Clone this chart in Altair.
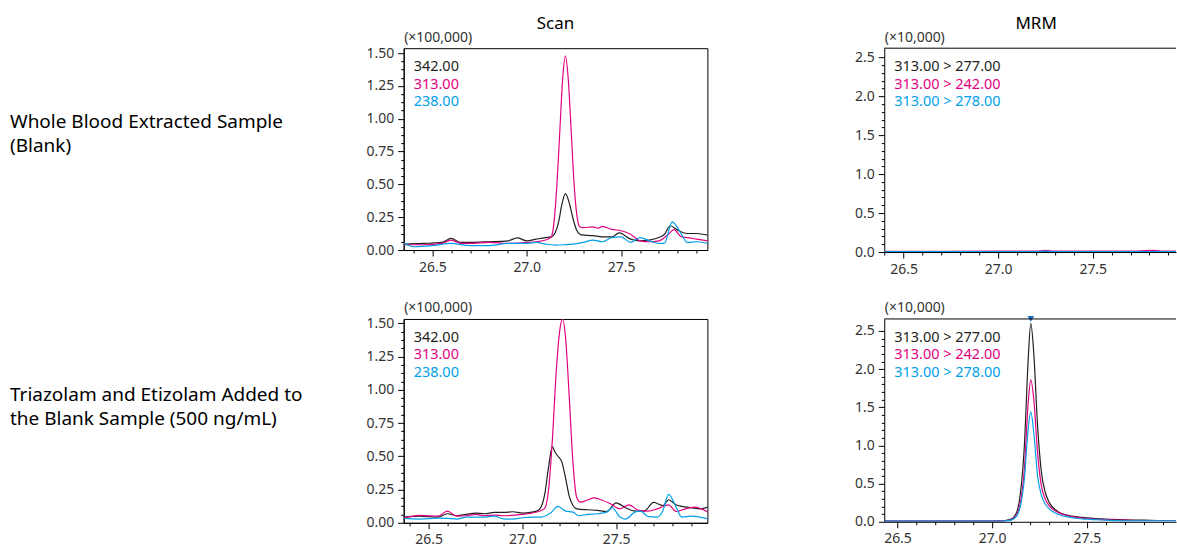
import altair as alt
import pandas as pd

FONT = "Noto Sans"
BLACK = "#231f20"
MAGENTA = "#e4007f"
CYAN = "#00a0e9"
MARK_BLUE = "#1f6fc0"

row_labels = ["Whole Blood Extracted Sample\n(Blank)",
              "Triazolam and Etizolam Added to\nthe Blank Sample (500 ng/mL)"]
panel_titles = ["Scan", "MRM"]
scan_names = ["342.00", "313.00", "238.00"]
mrm_names = ["313.00 > 277.00", "313.00 > 242.00", "313.00 > 278.00"]
scan_unit = "(×100,000)"
mrm_unit = "(×10,000)"

x_ticks = [26.4, 26.5, 26.6, 26.7, 26.8, 26.9, 27.0, 27.1, 27.2, 27.3, 27.4, 27.5, 27.6, 27.7, 27.8, 27.9]
scan_y_ticks = [0.0, 0.0625, 0.125, 0.1875, 0.25, 0.3125, 0.375, 0.4375, 0.5, 0.5625, 0.625, 0.6875,
                0.75, 0.8125, 0.875, 0.9375, 1.0, 1.0625, 1.125, 1.1875, 1.25, 1.3125, 1.375, 1.4375, 1.5]
mrm_y_ticks = [0.0, 0.1, 0.2, 0.3, 0.4, 0.5, 0.6, 0.7, 0.8, 0.9, 1.0, 1.1, 1.2, 1.3, 1.4, 1.5,
               1.6, 1.7, 1.8, 1.9, 2.0, 2.1, 2.2, 2.3, 2.4, 2.5]

# ---------- Scan, blank sample ----------
sb_342_t = [26.35, 26.45, 26.55, 26.6, 26.65, 26.7, 26.8, 26.9, 26.95, 27.0, 27.05, 27.1, 27.13, 27.15,
            27.17, 27.185, 27.205, 27.225, 27.245, 27.265, 27.29, 27.35, 27.4, 27.45, 27.49, 27.55,
            27.6, 27.65, 27.7, 27.73, 27.76, 27.8, 27.85, 27.9, 27.96]
sb_342_v = [0.045, 0.05, 0.058, 0.088, 0.058, 0.058, 0.063, 0.07, 0.092, 0.07, 0.083, 0.095, 0.10, 0.13,
            0.22, 0.34, 0.43, 0.36, 0.24, 0.15, 0.115, 0.11, 0.10, 0.10, 0.13, 0.083,
            0.07, 0.076, 0.095, 0.12, 0.185, 0.15, 0.126, 0.126, 0.114]
sb_313_t = [26.35, 26.45, 26.55, 26.6, 26.65, 26.7, 26.8, 26.9, 27.0, 27.05, 27.1, 27.13, 27.145, 27.16,
            27.175, 27.19, 27.205, 27.22, 27.235, 27.25, 27.265, 27.28, 27.3, 27.35, 27.38, 27.4,
            27.45, 27.5, 27.55, 27.6, 27.65, 27.7, 27.75, 27.78, 27.82, 27.85, 27.9, 27.96]
sb_313_v = [0.04, 0.04, 0.05, 0.076, 0.05, 0.05, 0.058, 0.05, 0.058, 0.063, 0.076, 0.10, 0.22, 0.50,
            0.90, 1.30, 1.48, 1.30, 0.92, 0.52, 0.27, 0.18, 0.17, 0.177, 0.167, 0.18,
            0.157, 0.147, 0.12, 0.07, 0.063, 0.07, 0.12, 0.155, 0.10, 0.095, 0.083, 0.07]
sb_238_t = [26.35, 26.4, 26.5, 26.6, 26.7, 26.8, 26.9, 27.0, 27.05, 27.1, 27.15, 27.2, 27.25, 27.3,
            27.35, 27.4, 27.45, 27.5, 27.55, 27.6, 27.65, 27.7, 27.73, 27.77, 27.82, 27.85, 27.9, 27.96]
sb_238_v = [0.053, 0.025, 0.033, 0.05, 0.033, 0.033, 0.05, 0.05, 0.058, 0.045, 0.038, 0.04, 0.045, 0.058,
            0.076, 0.063, 0.095, 0.10, 0.058, 0.095, 0.07, 0.05, 0.053, 0.215, 0.12, 0.058, 0.063, 0.05]

# ---------- Scan, spiked sample ----------
ss_342_t = [26.37, 26.45, 26.55, 26.6, 26.65, 26.7, 26.75, 26.8, 26.85, 26.9, 26.95, 27.0, 27.05, 27.08,
            27.1, 27.12, 27.14, 27.16, 27.175, 27.19, 27.21, 27.23, 27.25, 27.27, 27.29, 27.35, 27.4,
            27.45, 27.5, 27.55, 27.6, 27.65, 27.7, 27.75, 27.78, 27.82, 27.85, 27.9, 27.95, 27.99]
ss_342_v = [0.043, 0.05, 0.043, 0.068, 0.053, 0.063, 0.073, 0.068, 0.078, 0.078, 0.083, 0.073, 0.08, 0.09,
            0.12, 0.22, 0.42, 0.57, 0.53, 0.50, 0.46, 0.34, 0.20, 0.13, 0.105, 0.098, 0.093,
            0.085, 0.15, 0.113, 0.088, 0.088, 0.153, 0.13, 0.173, 0.135, 0.123, 0.113, 0.105, 0.118]
ss_313_t = [26.37, 26.45, 26.55, 26.6, 26.65, 26.7, 26.75, 26.8, 26.85, 26.9, 27.0, 27.05, 27.1, 27.12,
            27.14, 27.16, 27.18, 27.2, 27.215, 27.23, 27.25, 27.27, 27.29, 27.31, 27.35, 27.38, 27.42,
            27.47, 27.52, 27.57, 27.62, 27.67, 27.72, 27.78, 27.82, 27.87, 27.92, 27.99]
ss_313_v = [0.035, 0.055, 0.05, 0.088, 0.05, 0.053, 0.063, 0.053, 0.058, 0.053, 0.063, 0.073, 0.093, 0.11,
            0.25, 0.62, 1.12, 1.45, 1.53, 1.40, 0.95, 0.45, 0.19, 0.155, 0.173, 0.188, 0.173,
            0.143, 0.105, 0.135, 0.093, 0.088, 0.105, 0.135, 0.085, 0.105, 0.118, 0.08]
ss_238_t = [26.37, 26.45, 26.55, 26.6, 26.65, 26.7, 26.8, 26.85, 26.9, 26.95, 27.0, 27.05, 27.1, 27.15,
            27.19, 27.23, 27.27, 27.3, 27.35, 27.4, 27.45, 27.48, 27.52, 27.55, 27.6, 27.63, 27.67,
            27.72, 27.75, 27.78, 27.82, 27.85, 27.9, 27.99]
ss_238_v = [0.033, 0.028, 0.035, 0.033, 0.028, 0.043, 0.043, 0.05, 0.03, 0.028, 0.038, 0.043, 0.043, 0.073,
            0.123, 0.088, 0.08, 0.053, 0.063, 0.068, 0.08, 0.113, 0.043, 0.028, 0.08, 0.088, 0.048,
            0.043, 0.093, 0.213, 0.118, 0.043, 0.05, 0.03]

# ---------- MRM, blank sample ----------
mb_277_t = [26.4, 26.7, 27.0, 27.2, 27.4, 27.6, 27.8, 27.95]
mb_277_v = [0.005, 0.005, 0.006, 0.006, 0.005, 0.006, 0.006, 0.006]
mb_242_t = [26.4, 26.7, 27.0, 27.2, 27.25, 27.3, 27.5, 27.7, 27.82, 27.88, 27.95]
mb_242_v = [0.01, 0.01, 0.011, 0.012, 0.02, 0.012, 0.011, 0.012, 0.02, 0.012, 0.012]
mb_278_t = [26.4, 26.7, 27.0, 27.2, 27.25, 27.3, 27.5, 27.7, 27.95]
mb_278_v = [0.004, 0.004, 0.004, 0.006, 0.012, 0.005, 0.004, 0.005, 0.005]

# ---------- MRM, spiked sample ----------
ms_277_t = [26.43, 26.7, 27.0, 27.05, 27.1, 27.13, 27.15, 27.17, 27.19, 27.204, 27.22, 27.24, 27.26,
            27.28, 27.3, 27.35, 27.4, 27.45, 27.5, 27.6, 27.7, 27.8, 27.9, 27.97]
ms_277_v = [0.01, 0.01, 0.01, 0.012, 0.035, 0.13, 0.39, 0.99, 2.11, 2.60, 2.20, 1.25, 0.65,
            0.39, 0.26, 0.13, 0.086, 0.065, 0.052, 0.035, 0.026, 0.022, 0.017, 0.017]
ms_242_t = [26.43, 26.7, 27.0, 27.05, 27.1, 27.13, 27.15, 27.17, 27.19, 27.204, 27.22, 27.24, 27.26,
            27.28, 27.3, 27.35, 27.4, 27.45, 27.5, 27.6, 27.7, 27.8, 27.9, 27.97]
ms_242_v = [0.01, 0.01, 0.01, 0.011, 0.026, 0.095, 0.26, 0.69, 1.55, 1.86, 1.60, 0.90, 0.47,
            0.30, 0.215, 0.12, 0.078, 0.056, 0.043, 0.026, 0.022, 0.017, 0.017, 0.017]
ms_278_t = [26.43, 26.7, 27.0, 27.05, 27.1, 27.13, 27.15, 27.17, 27.19, 27.204, 27.22, 27.24, 27.26,
            27.28, 27.3, 27.35, 27.4, 27.45, 27.5, 27.6, 27.7, 27.8, 27.9, 27.97]
ms_278_v = [0.008, 0.008, 0.008, 0.01, 0.022, 0.078, 0.215, 0.56, 1.21, 1.44, 1.16, 0.60, 0.345,
            0.237, 0.172, 0.095, 0.065, 0.043, 0.034, 0.022, 0.013, 0.013, 0.013, 0.013]
peak_marker_t = [27.204]

series_colors = [BLACK, MAGENTA, CYAN]

MAJOR_X = "abs(datum.value*2 - round(datum.value*2)) < 0.001"


def panel(series, names, xdom, ydom, yticks, ymult, yfmt, unit, w, h, title, title_x,
          row_label=None, row_y=80, marker_t=None, box=True):
    rows = []
    for name, (ts, vs) in zip(names, series):
        for t, v in zip(ts, vs):
            rows.append({"series": name, "t": t, "v": v})
    df = pd.DataFrame(rows)
    major_y = f"abs(datum.value*{ymult} - round(datum.value*{ymult})) < 0.001"
    xv = [v for v in x_ticks if xdom[0] - 1e-9 <= v <= xdom[1] + 1e-9]
    xaxis = alt.Axis(values=xv, grid=False, title=None,
                     labelExpr=f"{MAJOR_X} ? format(datum.value, '.1f') : ''",
                     tickSize={"condition": {"test": MAJOR_X, "value": 6}, "value": 3},
                     domainColor="#000", tickColor="#000", domainWidth=1, tickWidth=1,
                     labelFont=FONT, labelFontSize=14, labelColor="#333", labelPadding=4,
                     labelFlush=False, labelOverlap=False)
    yaxis = alt.Axis(values=yticks, grid=False, title=unit,
                     labelExpr=f"{major_y} ? format(datum.value, '{yfmt}') : ''",
                     tickSize={"condition": {"test": major_y, "value": 6}, "value": 3},
                     domainColor="#000", tickColor="#000", domainWidth=1, tickWidth=1,
                     labelFont=FONT, labelFontSize=14, labelColor="#333", labelPadding=4,
                     labelFlush=False, labelOverlap=False,
                     titleAngle=0, titleAlign="left", titleBaseline="alphabetic",
                     titleX=0, titleY=-7, titleFont=FONT, titleFontSize=14,
                     titleFontWeight="normal", titleColor="#333")
    xenc = alt.X("t:Q", scale=alt.Scale(domain=xdom, nice=False, zero=False), axis=xaxis)
    yenc = alt.Y("v:Q", scale=alt.Scale(domain=ydom, nice=False, zero=False), axis=yaxis)
    lines = alt.Chart(df).mark_line(strokeWidth=1.2, interpolate="monotone", clip=True).encode(
        x=xenc, y=yenc,
        color=alt.Color("series:N", scale=alt.Scale(domain=names, range=series_colors), legend=None),
    )
    layers = [lines]
    for i, (name, col) in enumerate(zip(names, series_colors)):
        layers.append(
            alt.Chart(pd.DataFrame({"name": [name]})).mark_text(
                align="left", baseline="alphabetic", font=FONT, fontSize=14.5, color=col
            ).encode(text="name:N", x=alt.value(10), y=alt.value(23 + 17.5 * i))
        )
    layers.append(
        alt.Chart(pd.DataFrame({"title": [title]})).mark_text(
            align="center", baseline="alphabetic", font=FONT, fontSize=17, color="#000"
        ).encode(text="title:N", x=alt.value(title_x), y=alt.value(-19))
    )
    if row_label is not None:
        layers.append(
            alt.Chart(pd.DataFrame({"label": [row_label]})).mark_text(
                align="left", baseline="alphabetic", font=FONT, fontSize=19, color="#000",
                lineBreak="\n", lineHeight=24
            ).encode(text="label:N", x=alt.value(-394), y=alt.value(row_y))
        )
    if marker_t is not None:
        layers.append(
            alt.Chart(pd.DataFrame({"t": marker_t, "v": [ydom[1]]})).mark_point(
                shape="triangle-down", filled=True, color=MARK_BLUE, size=45, opacity=1
            ).encode(x=xenc, y=yenc)
        )
    if not box:
        layers.append(
            alt.Chart(pd.DataFrame({"a": [0]})).mark_rule(color="#000", strokeWidth=1).encode(
                x=alt.value(0), x2=alt.value(w), y=alt.value(0))
        )
    ch = alt.layer(*layers).properties(width=w, height=h)
    if box:
        ch = ch.properties(view=alt.ViewBackground(stroke="#000", strokeWidth=1))
    else:
        ch = ch.properties(view=alt.ViewBackground(stroke="transparent"))
    return ch


scan_blank = panel([(sb_342_t, sb_342_v), (sb_313_t, sb_313_v), (sb_238_t, sb_238_v)], scan_names,
                   [26.348, 27.957], [0, 1.538], scan_y_ticks, 4, ".2f", scan_unit, 304, 202,
                   panel_titles[0], 152, row_label=row_labels[0], row_y=80)
mrm_blank = panel([(mb_277_t, mb_277_v), (mb_242_t, mb_242_v), (mb_278_t, mb_278_v)], mrm_names,
                  [26.398, 27.94], [0, 2.62], mrm_y_ticks, 2, ".1f", mrm_unit, 292, 204,
                  panel_titles[1], 152, box=False)
scan_spk = panel([(ss_342_t, ss_342_v), (ss_313_t, ss_313_v), (ss_238_t, ss_238_v)], scan_names,
                 [26.367, 27.987], [0, 1.532], scan_y_ticks, 4, ".2f", scan_unit, 304, 204,
                 "", 152, row_label=row_labels[1], row_y=82)
mrm_spk = panel([(ms_277_t, ms_277_v), (ms_242_t, ms_242_v), (ms_278_t, ms_278_v)], mrm_names,
                [26.43, 27.971], [0, 2.657], mrm_y_ticks, 2, ".1f", mrm_unit, 292, 203,
                "", 152, marker_t=peak_marker_t, box=False)

chart = alt.concat(scan_blank, mrm_blank, scan_spk, mrm_spk, columns=2, bounds="flush",
                   spacing=alt.RowColnumber(row=67, column=177)).properties(
    padding={"left": 9, "top": 14, "right": 0, "bottom": 0}
).configure(font=FONT).configure_view(strokeWidth=1)

chart.save("out.html", embed_options={"renderer": "svg", "actions": False})
